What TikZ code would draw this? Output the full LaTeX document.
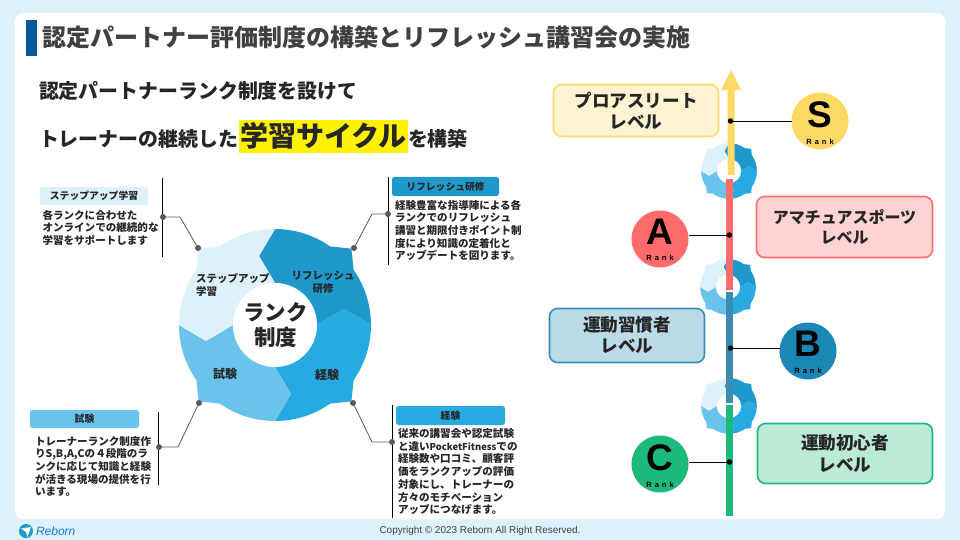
\documentclass[tikz,border=0pt]{standalone}
\usepackage{fontspec}
\setmainfont{Noto Sans CJK JP}
\newfontfamily\footfont{Liberation Sans}
\usetikzlibrary{shapes}
\usepackage{xcolor,colortbl}
\definecolor{skypale}{HTML}{DDF1FA}
\definecolor{barblue}{HTML}{055A9E}
\definecolor{wheelA}{HTML}{1F99CB}
\definecolor{wheelB}{HTML}{27A9E1}
\definecolor{wheelC}{HTML}{6AC3EA}
\definecolor{inkgray}{HTML}{404040}
\definecolor{leadgray}{HTML}{595959}
\definecolor{rankS}{HTML}{FFD966}
\definecolor{rankA}{HTML}{FF6B6B}
\definecolor{rankB}{HTML}{1B87B5}
\definecolor{rankBbar}{HTML}{3A8DB0}
\definecolor{rankC}{HTML}{1DB97A}
% one wheel: #1 = centre, #2 = scale
\newcommand{\rankwheel}[2]{
  \begin{scope}[shift={#1},scale=#2,yscale=-1]
    \foreach \ang/\col in {0/wheelA,90/wheelB,180/wheelC,270/skypale}
      \fill[\col,rotate=\ang] (90:96) arc[start angle=90,end angle=55,radius=96]
        -- (45:108) -- (35:96) arc[start angle=35,end angle=0,radius=96]
        -- (69,16) -- (42,0) -- (0,0) -- (0,42) -- (-16,69) -- cycle;
    \fill[white] (0,0) circle (42);
  \end{scope}
}
\newcommand{\rankspaced}{R\hspace{3pt}a\hspace{3pt}n\hspace{3pt}k}
\begin{document}
\begin{tikzpicture}[x=1pt,y=-1pt]
      \tikzstyle{every node}=[inner sep=0pt,outer sep=0pt]
      \tikzstyle{tag}=[rectangle,rounded corners=2.5pt,minimum width=109pt,minimum height=18pt,font=\fontsize{9.8}{11}\selectfont\bfseries,text=black!85]
      \tikzstyle{para}=[anchor=north west,align=left,font=\fontsize{10.55}{12.7}\selectfont\bfseries,text=black!85]
      \tikzstyle{seg}=[font=\fontsize{10.5}{13}\selectfont\bfseries,align=center,text=black!85]
      \tikzstyle{lead}=[draw=leadgray,line width=.8pt]
      \tikzstyle{leaddot}=[circle,fill=leadgray,minimum size=6pt]
      \tikzstyle{fence}=[draw=black,line width=.9pt]
      \tikzstyle{levelbox}=[rectangle,rounded corners=8pt,line width=1.6pt,align=center,font=\fontsize{17.6}{21}\selectfont\bfseries,text=black!85]
      \tikzstyle{rankdisc}=[circle,minimum size=57pt]
      \tikzstyle{rankword}=[font=\footfont\fontsize{7.5}{8}\selectfont\bfseries,text=black]
      \tikzstyle{rankletter}=[font=\footfont\fontsize{37}{37}\selectfont\bfseries,text=black]
      \tikzstyle{stem}=[circle,fill=black,minimum size=5.5pt]
      \tikzstyle{tie}=[draw=black,line width=.9pt]
      \useasboundingbox (0,0) rectangle (960,540);
      \fill[skypale] (0,0) rectangle (960,540);
      \fill[white,rounded corners=8pt] (15,13) rectangle (945,519);
      % heading
      \fill[barblue] (26,20) rectangle (37,56);
      \node[anchor=west,text=inkgray,font=\fontsize{24}{28}\selectfont\bfseries] (title) at (42,37) {認定パートナー評価制度の構築とリフレッシュ講習会の実施};
      \node[anchor=west,text=black!85,font=\fontsize{19.9}{24}\selectfont\bfseries] (leadone) at (39,91) {認定パートナーランク制度を設けて};
      \node[anchor=west,text=black!85,font=\fontsize{19.9}{24}\selectfont\bfseries] (leadtwo) at (39,139) {トレーナーの継続した};
      \fill[yellow] (239,120) rectangle (408,153);
      \node[anchor=west,text=black!85,font=\fontsize{28}{32}\selectfont\bfseries] (leadmark) at (240,136) {学習サイクル};
      \node[anchor=west,text=black!85,font=\fontsize{19.9}{24}\selectfont\bfseries] (leadend) at (408,139) {を構築};
      % big wheel
      \rankwheel{(275,325)}{1}
      \node[font=\fontsize{21.5}{25}\selectfont\bfseries,align=center,text=black!85] (hub) at (275.5,325.5) {ランク\\制度};
      \node[seg,align=left,anchor=west] (segstep) at (196,285) {ステップアップ\\学習};
      \node[seg] (segrefresh) at (323,282) {リフレッシュ\\研修};
      \node[seg,font=\fontsize{12}{13}\selectfont\bfseries] (segexam) at (225,374) {試験};
      \node[seg,font=\fontsize{12}{13}\selectfont\bfseries] (segexp) at (327,375) {経験};
      % callouts
      \node[tag,fill=skypale,minimum width=108pt] (tagstep) at (94,196) {ステップアップ学習};
      \node[tag,fill=wheelA,minimum width=107pt,minimum height=19pt] (tagrefresh) at (445.5,186.5) {リフレッシュ研修};
      \node[tag,fill=wheelC] (tagexam) at (84.5,419) {試験};
      \node[tag,fill=wheelB,minimum height=19pt] (tagexp) at (450.5,415.5) {経験};
      \node[para] (parastep) at (42.5,210) {各ランクに合わせた\\オンラインでの継続的な\\学習をサポートします};
      \node[para] (pararefresh) at (395,200) {経験豊富な指導陣による各\\ランクでのリフレッシュ\\講習と期限付きポイント制\\度により知識の定着化と\\アップデートを図ります。};
      \node[para] (paraexam) at (35,436) {トレーナーランク制度作\\りS,B,A,Cの４段階のラ\\ンクに応じて知識と経験\\が活きる現場の提供を行\\います。};
      \node[para] (paraexp) at (398,428.5) {従来の講習会や認定試験\\と違い{\fontsize{9.4}{12.7}\selectfont PocketFitness}での\\経験数や口コミ、顧客評\\価をランクアップの評価\\対象にし、トレーナーの\\方々のモチベーション\\アップにつなげます。};
      \draw[fence] (162,178) -- (162,257);
      \draw[fence] (388,177) -- (388,265);
      \draw[fence] (158,412) -- (158,485);
      \draw[fence] (392,405) -- (392,518);
      \node[leaddot] (dotstepa) at (163,217) {};
      \node[leaddot] (dotstepb) at (198,248) {};
      \coordinate (kneestep) at (180,217);
      \draw[lead] (dotstepa) -- (kneestep) -- (dotstepb);
      \node[leaddot] (dotrefa) at (388,214) {};
      \node[leaddot] (dotrefb) at (354,248) {};
      \coordinate (kneeref) at (372,214);
      \draw[lead] (dotrefa) -- (kneeref) -- (dotrefb);
      \node[leaddot] (dotexama) at (159,447) {};
      \node[leaddot] (dotexamb) at (199,403) {};
      \coordinate (kneeexam) at (178,447);
      \draw[lead] (dotexama) -- (kneeexam) -- (dotexamb);
      \node[leaddot] (dotexpa) at (392,442) {};
      \node[leaddot] (dotexpb) at (353,403) {};
      \coordinate (kneeexp) at (372,442);
      \draw[lead] (dotexpa) -- (kneeexp) -- (dotexpb);
      % ladder
      \rankwheel{(729,171)}{.29}
      \rankwheel{(728,287)}{.29}
      \rankwheel{(729,406)}{.29}
      \fill[rankS] (727.5,175) -- (727.5,90) -- (721,90) -- (731,70) -- (741,90) -- (734.5,90) -- (734.5,175) -- cycle;
      \fill[rankA] (726,179) rectangle (733,290);
      \fill[rankBbar] (726,292) rectangle (733,403);
      \fill[rankC] (726,405) rectangle (733,516);
      \node[stem] (stemS) at (730.5,121) {};
      \node[stem] (stemA) at (729.5,235) {};
      \node[stem] (stemB) at (730.5,348) {};
      \node[stem] (stemC) at (729.5,462) {};
      \node[rankdisc,fill=rankS] (discS) at (820,121) {};
      \node[rankdisc,fill=rankA] (discA) at (660,239) {};
      \node[rankdisc,fill=rankB] (discB) at (808,351) {};
      \node[rankdisc,fill=rankC] (discC) at (660,464) {};
      \draw[tie] (stemS) -- (discS);
      \draw[tie] (stemA) -- (discA.east |- stemA);
      \draw[tie] (stemB) -- (discB.west |- stemB);
      \draw[tie] (stemC) -- (discC.east |- stemC);
      \node[rankletter] (letterS) at (820,115) {S};
      \node[rankletter] (letterA) at (660,232) {A};
      \node[rankletter] (letterB) at (808,344) {B};
      \node[rankletter] (letterC) at (660,458) {C};
      \node[rankword] (wordS) at (820,142) {\rankspaced};
      \node[rankword] (wordA) at (660,258) {\rankspaced};
      \node[rankword] (wordB) at (808,371) {\rankspaced};
      \node[rankword] (wordC) at (660,485) {\rankspaced};
      \node[levelbox,draw=rankS,fill=rankS!30,minimum width=165pt,minimum height=52pt] (boxS) at (636,110.5) {プロアスリート\\レベル};
      \node[levelbox,draw=rankA,fill=rankA!30,minimum width=176pt,minimum height=61pt,font=\fontsize{16}{20}\selectfont\bfseries] (boxA) at (844.5,227) {アマチュアスポーツ\\レベル};
      \node[levelbox,draw=rankBbar,fill=rankB!30,minimum width=155pt,minimum height=54pt] (boxB) at (627,335.5) {運動習慣者\\レベル};
      \node[levelbox,draw=rankC,fill=rankC!30,minimum width=175pt,minimum height=60pt] (boxC) at (845,453.5) {運動初心者\\レベル};
      % footer
      \fill[wheelA] (26,531) circle (7);
      \fill[white] (21,528.5) -- (31,527) -- (27.5,537) -- (26,532) -- cycle;
      \node[anchor=west,text=wheelA!80!blue,font=\footfont\fontsize{12}{13}\selectfont\itshape] (brand) at (36,531.5) {Reborn};
      \node[font=\footfont\fontsize{9.95}{11}\selectfont,text=inkgray] (copy) at (480,531) {Copyright © 2023 Reborn All Right Reserved.};
\end{tikzpicture}
\end{document}
